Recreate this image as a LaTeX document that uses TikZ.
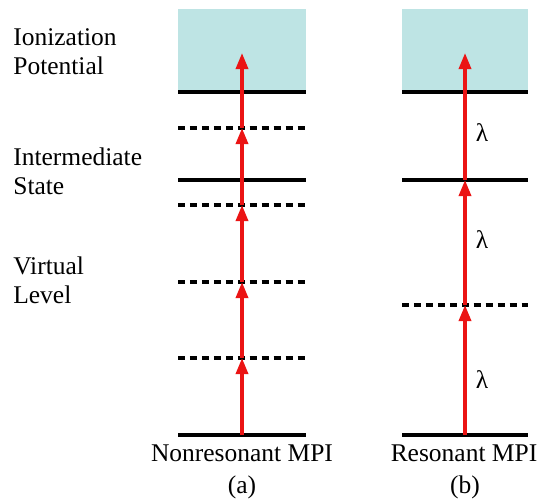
\documentclass[tikz,border=0pt]{standalone}
\usepackage{fontspec}
\setmainfont{Liberation Serif}
\usepackage{tikz}
\usetikzlibrary{arrows.meta}

\definecolor{ionblue}{RGB}{190,228,228}
\definecolor{photonred}{RGB}{235,20,20}

\begin{document}
\begin{tikzpicture}[
    every node/.style={font=\rmfamily\fontsize{14.5}{16.5}\selectfont, inner sep=0pt},
    level/.style={line width=2pt},
    virtlevel/.style={line width=2pt, dash pattern=on 4pt off 2.8pt},
    photon/.style={photonred, line width=1.9pt, -{Triangle[length=0.32cm,width=0.24cm]}}]
\useasboundingbox (0,0) rectangle (10.78,-9.98);

% continuum
\fill[ionblue] (3.56,-0.18) rectangle (6.12,-1.84);
\fill[ionblue] (8.04,-0.18) rectangle (10.56,-1.84);

% (a) nonresonant
\draw[level] (3.56,-1.84) -- (6.12,-1.84);
\draw[virtlevel] (3.56,-2.56) -- (6.12,-2.56);
\draw[level] (3.56,-3.6) -- (6.12,-3.6);
\draw[virtlevel] (3.56,-4.1) -- (6.12,-4.1);
\draw[virtlevel] (3.56,-5.64) -- (6.12,-5.64);
\draw[virtlevel] (3.56,-7.16) -- (6.12,-7.16);
\draw[level] (3.56,-8.7) -- (6.12,-8.7);

% (b) resonant
\draw[level] (8.04,-1.84) -- (10.56,-1.84);
\draw[level] (8.04,-3.6) -- (10.56,-3.6);
\draw[virtlevel] (8.04,-6.1) -- (10.56,-6.1);
\draw[level] (8.04,-8.7) -- (10.56,-8.7);

\coordinate (A0) at (4.84,-8.7);
\coordinate (A1) at (4.84,-7.16);
\coordinate (A2) at (4.84,-5.64);
\coordinate (A3) at (4.84,-4.1);
\coordinate (A4) at (4.84,-2.56);
\coordinate (A5) at (4.84,-1.06);

\coordinate (B0) at (9.3,-8.7);
\coordinate (B1) at (9.3,-6.1);
\coordinate (B2) at (9.3,-3.6);
\coordinate (B3) at (9.3,-1.06);

\draw[photon] (A0) -- (A1);
\draw[photon] (A1) -- (A2);
\draw[photon] (A2) -- (A3);
\draw[photon] (A3) -- (A4);
\draw[photon] (A4) -- (A5);

\draw[photon] (B0) -- (B1);
\draw[photon] (B1) -- (B2);
\draw[photon] (B2) -- (B3);

\draw (9.64,-7.6) node (Lam1) {λ};
\draw (9.64,-4.8) node (Lam2) {λ};
\draw (9.64,-2.66) node (Lam3) {λ};

\draw (0.26,-1.03) node (Ion) [anchor=west,align=left] {Ionization\\Potential};
\draw (0.26,-3.43) node (Inter) [anchor=west,align=left] {Intermediate\\State};
\draw (0.26,-5.61) node (Virt) [anchor=west,align=left] {Virtual\\Level};

\draw (4.84,-9.06) node (NonRes) {Nonresonant MPI};
\draw (4.84,-9.74) node (CapA) {(a)};
\draw (9.28,-9.06) node (Res) {Resonant MPI};
\draw (9.3,-9.74) node (CapB) {(b)};

\end{tikzpicture}
\end{document}
